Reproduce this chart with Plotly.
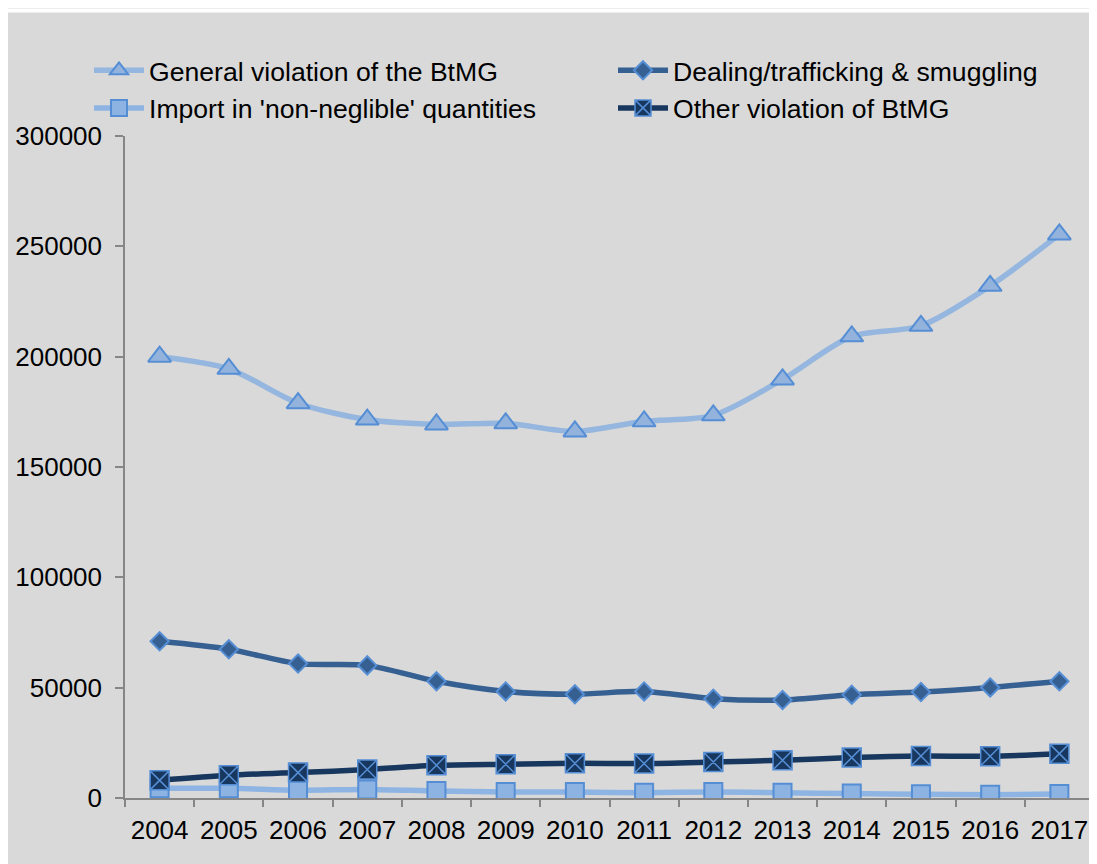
import plotly.graph_objects as go

years = ["2004", "2005", "2006", "2007", "2008", "2009", "2010",
         "2011", "2012", "2013", "2014", "2015", "2016", "2017"]
general = [200000, 194500, 178900, 171500, 169300, 169800, 166100,
           170700, 173400, 189700, 209200, 214000, 232100, 255400]
dealing = [71000, 67400, 60900, 60100, 52900, 48300, 47000,
           48300, 45000, 44400, 46800, 48000, 50100, 52900]
import_q = [4400, 4400, 3500, 3900, 3200, 2700, 2700,
            2400, 2700, 2400, 2000, 1700, 1500, 1800]
other = [8000, 10300, 11500, 12900, 14800, 15300, 15700,
         15600, 16300, 17100, 18300, 19000, 18900, 20100]
y_ticks = [0, 50000, 100000, 150000, 200000, 250000, 300000]

W, H = 1089, 856
L, R, T, B = 117, 3, 127.5, 66.3
PW, PH = W - L - R, H - T - B

def px_x(px):
    return (px - L) / PW

def px_y(py):
    return (H - B - py) / PH

FONT = "Liberation Sans, Arial, sans-serif"
BG = "#d9d9d9"
AXC = "#868686"

fig = go.Figure()
fig.add_trace(go.Scatter(
    x=years, y=general, name="General violation of the BtMG", legend="legend",
    mode="lines+markers",
    line=dict(color="#95b6de", width=5.5, shape="spline", smoothing=0.8),
    marker=dict(symbol="triangle-up", size=20, color="#93b3dc",
                line=dict(color="#558ed5", width=2)),
))
fig.add_trace(go.Scatter(
    x=years, y=dealing, name="Dealing/trafficking & smuggling", legend="legend2",
    mode="lines+markers",
    line=dict(color="#376092", width=5.5, shape="spline", smoothing=0.8),
    marker=dict(symbol="diamond", size=14, color="#376092",
                line=dict(color="#558ed5", width=2)),
))
fig.add_trace(go.Scatter(
    x=years, y=import_q, name="Import in 'non-neglible' quantities", legend="legend",
    mode="lines+markers",
    line=dict(color="#8eb4e3", width=5.5, shape="spline", smoothing=0.8),
    marker=dict(symbol="square", size=18, color="#8db3e2",
                line=dict(color="#558ed5", width=2)),
))
fig.add_trace(go.Scatter(
    x=years, y=other, name="Other violation of BtMG", legend="legend2",
    mode="lines+markers",
    line=dict(color="#17375e", width=5.5, shape="spline", smoothing=0.8),
    marker=dict(symbol="square-x", size=19, color="#17375e",
                line=dict(color="#558ed5", width=1.5)),
))

legend_common = dict(
    orientation="v", xanchor="left", yanchor="top",
    xref="paper", yref="paper",
    bgcolor="rgba(0,0,0,0)", borderwidth=0,
    font=dict(family=FONT, size=26.6, color="#000000"),
    itemwidth=50, tracegroupgap=0,
)

fig.update_layout(
    width=W, height=H,
    margin=dict(l=L, r=R, t=T, b=B, pad=0),
    paper_bgcolor=BG, plot_bgcolor=BG,
    font=dict(family=FONT, size=26, color="#000000"),
    showlegend=True,
    legend=dict(x=px_x(81), y=px_y(38), **legend_common),
    legend2=dict(x=px_x(605), y=px_y(38), **legend_common),
    xaxis=dict(
        type="category", range=[-0.5, 13.5], tickson="boundaries",
        ticks="outside", ticklen=7, tickcolor=AXC, tickwidth=1.5,
        showline=True, linecolor=AXC, linewidth=1.5,
        showgrid=False, zeroline=False, ticklabelstandoff=8,
        tickfont=dict(family=FONT, size=26, color="#000000"),
    ),
    yaxis=dict(
        range=[0, 300000], tickvals=y_ticks, tickformat="d",
        ticks="outside", ticklen=8, tickcolor=AXC, tickwidth=1.5,
        showline=True, linecolor=AXC, linewidth=1.5,
        showgrid=False, zeroline=False, ticklabelstandoff=8,
        tickfont=dict(family=FONT, size=26, color="#000000"),
    ),
    shapes=[
        dict(type="rect", xref="paper", yref="paper", layer="below",
             x0=px_x(0), x1=px_x(W), y0=px_y(4), y1=px_y(0),
             fillcolor="#ffffff", line=dict(width=0)),
    ],
)

fig.write_html("out.html", post_script="document.body.style.overflow='hidden';")
